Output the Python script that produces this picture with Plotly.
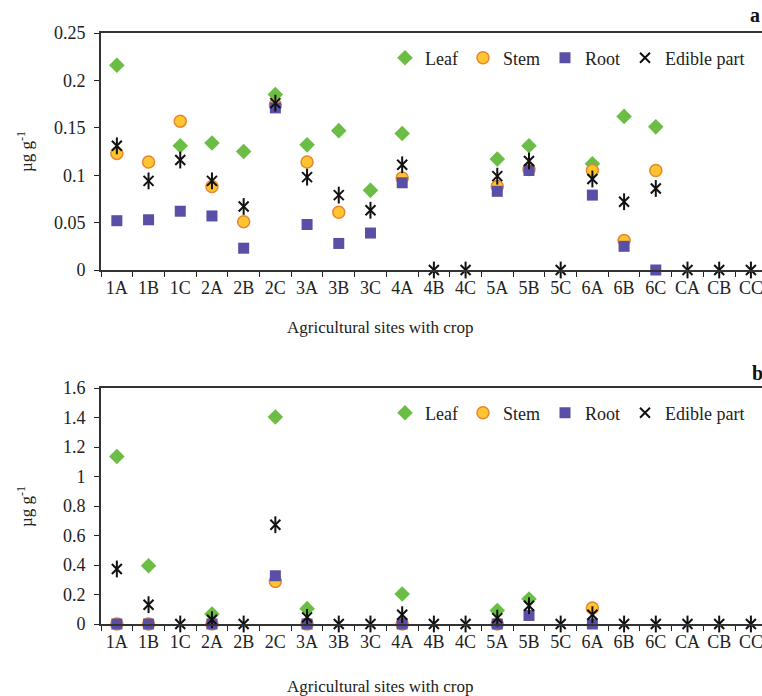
import plotly.graph_objects as go

# Sampling sites (agricultural site + crop)
sites = ["1A", "1B", "1C", "2A", "2B", "2C", "3A", "3B", "3C", "4A", "4B", "4C",
         "5A", "5B", "5C", "6A", "6B", "6C", "CA", "CB", "CC"]

# Panel a concentrations (µg g-1)
leaf_a = [0.216, None, 0.131, 0.134, 0.125, 0.185, 0.132, 0.147, 0.084, 0.144, None, None,
          0.117, 0.131, None, 0.112, 0.162, 0.151, None, None, None]
stem_a = [0.123, 0.114, 0.157, 0.088, 0.051, 0.174, 0.114, 0.061, None, 0.097, None, None,
          0.088, 0.106, None, 0.105, 0.031, 0.105, None, None, None]
root_a = [0.052, 0.053, 0.062, 0.057, 0.023, 0.171, 0.048, 0.028, 0.039, 0.092, None, None,
          0.083, 0.105, None, 0.079, 0.025, 0.0, None, None, None]
edible_a = [0.131, 0.094, 0.116, 0.094, 0.067, 0.176, 0.098, 0.079, 0.063, 0.111, 0.0, 0.0,
            0.099, 0.115, 0.0, 0.096, 0.072, 0.086, 0.0, 0.0, 0.0]

# Panel b concentrations (µg g-1)
leaf_b = [1.136, 0.395, None, 0.068, None, 1.403, 0.104, None, None, 0.203, None, None,
          0.092, 0.170, None, None, None, None, None, None, None]
stem_b = [0.0, 0.0, None, 0.0, None, 0.289, 0.0, None, None, 0.0, None, None,
          0.0, None, None, 0.108, None, None, None, None, None]
root_b = [0.0, 0.0, None, 0.0, None, 0.327, 0.0, None, None, 0.0, None, None,
          0.0, 0.058, None, 0.0, None, None, None, None, None]
edible_b = [0.373, 0.131, 0.0, 0.029, 0.0, 0.673, 0.045, 0.0, 0.0, 0.063, 0.0, 0.0,
            0.040, 0.124, 0.0, 0.063, 0.0, 0.0, 0.0, 0.0, 0.0]

SERIF = "Liberation Serif"
INK = "#222222"
LEAF = dict(symbol="diamond", size=12, color="#6cbd45", line=dict(width=0))
STEM = dict(symbol="circle", size=12, color="#ffc530", line=dict(width=1.5, color="#e8862e"))
ROOT = dict(symbol="square", size=11, color="#5a4fa6", line=dict(width=0))
EDIBLE_X = dict(symbol="x-thin-open", size=10, color="#111111", line=dict(width=2, color="#111111"))
EDIBLE_V = dict(symbol="line-ns-open", size=12, color="#111111", line=dict(width=2, color="#111111"))

fig = go.Figure()


def add_panel(fig, xa, ya, legend, leaf, stem, root, edible):
    common = dict(x=sites, xaxis=xa, yaxis=ya, mode="markers", cliponaxis=False, legend=legend)
    fig.add_trace(go.Scatter(y=leaf, name="Leaf", marker=LEAF, **common))
    fig.add_trace(go.Scatter(y=stem, name="Stem", marker=STEM, **common))
    fig.add_trace(go.Scatter(y=root, name="Root", marker=ROOT, **common))
    fig.add_trace(go.Scatter(y=edible, name="Edible part", marker=EDIBLE_X,
                             legendgroup=legend + "e", **common))
    fig.add_trace(go.Scatter(y=edible, name="Edible part", marker=EDIBLE_V, showlegend=False,
                             legendgroup=legend + "e", **common))


add_panel(fig, "x", "y", "legend", leaf_a, stem_a, root_a, edible_a)
add_panel(fig, "x2", "y2", "legend2", leaf_b, stem_b, root_b, edible_b)

W, H = 762, 696
ML, MT, MB = 101, 33, 72
plot_h = H - MT - MB


def ypaper(px):
    return (H - MB - px) / plot_h


def xpaper(px):
    return (px - ML) / (W - ML)


xaxis_style = dict(
    type="category", categoryorder="array", categoryarray=sites,
    range=[-0.5, 20.35], showline=True, linecolor="#333333", linewidth=2,
    mirror=True, ticks="outside", ticklen=5, tickcolor=INK, tickson="boundaries",
    tickangle=0, showgrid=False, zeroline=False,
    tickfont=dict(family=SERIF, size=18, color=INK),
)
yaxis_style = dict(
    showline=True, linecolor="#333333", linewidth=2, ticks="outside", ticklen=5,
    tickcolor=INK, showgrid=False, zeroline=False, ticklabelstandoff=5,
    tickfont=dict(family=SERIF, size=18, color=INK),
)
legend_style = dict(orientation="h", x=xpaper(750), xanchor="right", yanchor="middle",
                    font=dict(family=SERIF, size=18, color=INK), bgcolor="rgba(0,0,0,0)",
                    itemwidth=30, tracegroupgap=0)

fig.update_layout(
    width=W, height=H,
    margin=dict(l=ML, r=0, t=MT, b=MB),
    paper_bgcolor="white", plot_bgcolor="white",
    font=dict(family=SERIF, color=INK),
    xaxis=dict(domain=[0, 1], anchor="y", **xaxis_style),
    yaxis=dict(domain=[ypaper(270), 1], anchor="x", range=[0, 0.25], dtick=0.05, **yaxis_style),
    xaxis2=dict(domain=[0, 1], anchor="y2", **xaxis_style),
    yaxis2=dict(domain=[0, ypaper(388)], anchor="x2", range=[0, 1.6], dtick=0.2, **yaxis_style),
    legend=dict(y=ypaper(58), **legend_style),
    legend2=dict(y=ypaper(413), **legend_style),
    showlegend=True,
)

ann_common = dict(xref="paper", yref="paper", showarrow=False,
                  font=dict(family=SERIF, size=17, color=INK))

fig.add_annotation(text="Agricultural sites with crop", x=xpaper(380), y=ypaper(327),
                   xanchor="center", yanchor="middle", **ann_common)
fig.add_annotation(text="Agricultural sites with crop", x=xpaper(380), y=ypaper(686),
                   xanchor="center", yanchor="middle", **ann_common)
fig.add_annotation(text="µg g<sup>-1</sup>", x=xpaper(25), y=ypaper(152), textangle=-90,
                   xanchor="center", yanchor="middle", **ann_common)
fig.add_annotation(text="µg g<sup>-1</sup>", x=xpaper(25), y=ypaper(507), textangle=-90,
                   xanchor="center", yanchor="middle", **ann_common)
fig.add_annotation(text="<b>a</b>", x=xpaper(755), y=ypaper(15), xanchor="center",
                   yanchor="middle", xref="paper", yref="paper", showarrow=False,
                   font=dict(family=SERIF, size=20, color="#111111"))
fig.add_annotation(text="<b>b</b>", x=xpaper(757), y=ypaper(373), xanchor="center",
                   yanchor="middle", xref="paper", yref="paper", showarrow=False,
                   font=dict(family=SERIF, size=20, color="#111111"))

fig.write_html("out.html")
